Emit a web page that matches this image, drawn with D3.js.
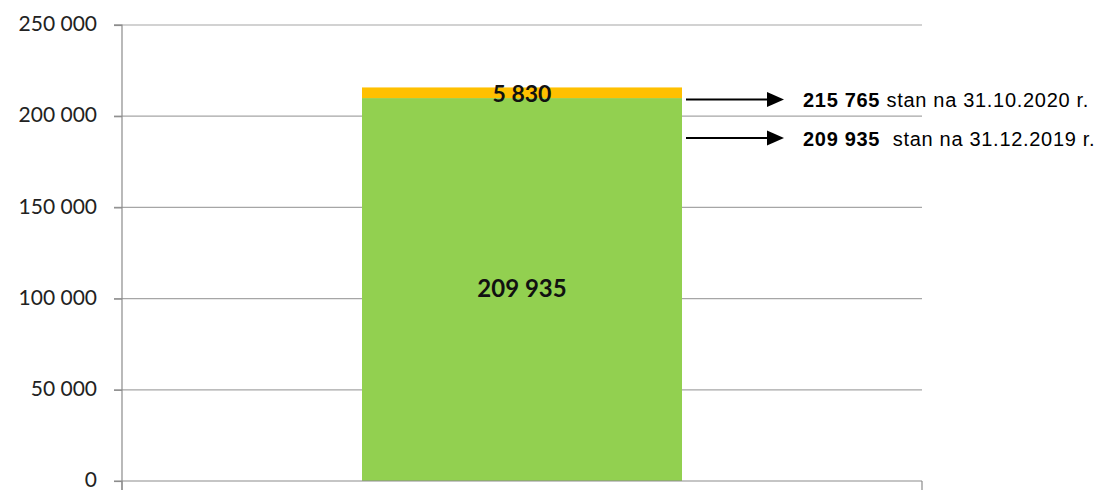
<!DOCTYPE html>
<html><head><meta charset="utf-8">
<script src="https://cdn.jsdelivr.net/npm/d3@7"></script>
<style>body{margin:0;background:#fff}svg{display:block}</style>
</head><body>
<svg id="c" width="1096" height="490"></svg>
<script>
const categories = [""];
const seriesNames = ["stan na 31.12.2019 r.", "przyrost"];
const baseValues = [209935];
const increaseValues = [5830];
const yTicks = [0, 50000, 100000, 150000, 200000, 250000];
const annotations = [
  {value: 215765, bold: "215 765", text: " stan na 31.10.2020 r."},
  {value: 209935, bold: "209 935", text: "  stan na 31.12.2019 r."}
];

const svg = d3.select("#c");
const m = {l: 122, r: 922, t: 25, b: 481};
const x = d3.scaleBand().domain(categories).range([m.l, m.r]).paddingInner(0.6).paddingOuter(0.3);
const y = d3.scaleLinear().domain([0, 250000]).range([m.b, m.t]);
const fmt = v => d3.format(",")(v).replace(/,/g, " ");

// gridlines
svg.append("g").selectAll("line").data(yTicks.filter(d => d > 0)).join("line")
  .attr("x1", m.l - 8).attr("x2", m.r).attr("y1", d => y(d)).attr("y2", d => y(d))
  .attr("stroke", "#a6a6a6").attr("stroke-width", 1.2);

// y axis
const ya = svg.append("g").attr("transform", `translate(${m.l},0)`)
  .call(d3.axisLeft(y).tickValues(yTicks).tickSize(8).tickFormat(fmt));
ya.select(".domain").attr("stroke", "#8c8c8c").attr("stroke-width", 1.2).attr("d", `M-8,${m.t}H0V${m.b + 9}`);
ya.selectAll(".tick line").attr("stroke", "#8c8c8c").attr("stroke-width", 1.2);
ya.selectAll(".tick text").attr("font-family", "Lato, 'Open Sans', sans-serif").attr("font-size", 21)
  .attr("fill", "#222").attr("x", -25).attr("dy", "0.27em");

// stacked data
const rows = categories.map((c, i) => ({cat: c, base: baseValues[i], inc: increaseValues[i]}));
const stack = d3.stack().keys(["base", "inc"])(rows);
const colors = {base: "#92D050", inc: "#FFC000"};
svg.append("g").selectAll("g").data(stack).join("g").attr("fill", d => colors[d.key])
  .selectAll("rect").data(d => d).join("rect")
  .attr("x", d => x(d.data.cat)).attr("width", x.bandwidth())
  .attr("y", d => y(d[1])).attr("height", d => y(d[0]) - y(d[1]));

// x axis
const xa = svg.append("g").attr("transform", `translate(0,${m.b})`);
xa.append("line").attr("x1", m.l - 8).attr("x2", m.r).attr("y1", 0).attr("y2", 0)
  .attr("stroke", "#8c8c8c").attr("stroke-width", 1.2);
[m.l, m.r].forEach(px => xa.append("line").attr("x1", px).attr("x2", px).attr("y1", 0).attr("y2", 9)
  .attr("stroke", "#8c8c8c").attr("stroke-width", 1.2));

// bar labels
stack.forEach(s => s.forEach(d => {
  svg.append("text").attr("x", x(d.data.cat) + x.bandwidth() / 2)
    .attr("y", (y(d[0]) + y(d[1])) / 2 + (s.key === "inc" ? 3 : 1))
    .attr("text-anchor", "middle").attr("dominant-baseline", "middle")
    .attr("font-family", "Lato, 'Open Sans', sans-serif").attr("font-weight", "bold").attr("font-size", s.key === "inc" ? 23 : 24)
    .attr("fill", "#111").text(fmt(d[1] - d[0]));
}));

// annotations
const barRight = x(categories[0]) + x.bandwidth();
const ann = svg.append("g");
annotations.forEach((a, i) => {
  const yy = i === 0 ? y(a.value) + 12 : y(a.value) + 40;
  ann.append("line").attr("x1", barRight + 4).attr("x2", 770).attr("y1", yy).attr("y2", yy)
    .attr("stroke", "#000").attr("stroke-width", 2);
  ann.append("path").attr("d", `M767,${yy - 7.5}L784,${yy}L767,${yy + 7.5}Z`).attr("fill", "#000");
  const t = ann.append("text").attr("x", 803).attr("y", yy + 8)
    .attr("font-family", "Arial, 'Liberation Sans', sans-serif").attr("font-size", 20).attr("fill", "#000")
    .attr("letter-spacing", 0.7)
    .attr("xml:space", "preserve").style("white-space", "pre");
  t.append("tspan").attr("font-weight", "bold").text(a.bold);
  t.append("tspan").text(a.text);
});
</script>
</body></html>
